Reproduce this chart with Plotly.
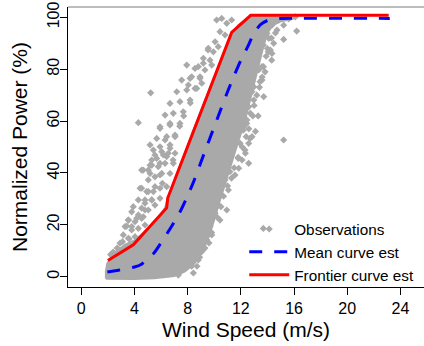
import plotly.graph_objects as go

# ---- Data ----
# Dense core of observations (outline of the solid gray band)
core_x = [1.85, 1.85, 1.95, 2.3, 2.8, 3.4, 4.0, 4.6, 5.2, 5.8, 6.3, 6.5, 6.9, 7.4, 7.9, 8.4, 8.9,
          9.4, 9.9, 10.4, 10.9, 11.3, 11.8, 12.4, 12.9, 16.3, 15.8, 15.0, 14.4, 14.0, 13.7, 13.4,
          13.1, 12.7, 12.3, 11.8, 11.3, 10.8, 10.4, 10.0, 9.6, 9.1, 8.5, 7.8, 7.0, 5.5, 4.0, 1.85]
core_y = [-0.8, 2, 5, 8, 10.5, 12.5, 14, 16.5, 19.5, 23, 26.5, 30, 35.5, 42, 49, 56, 62.5,
          69, 75.5, 82, 88.5, 93.5, 97, 99.2, 100.3, 100.3, 99.3, 98.5, 97, 94, 89, 83,
          76, 68, 60, 52, 44, 36, 29, 22, 15.5, 9.5, 5, 2, 0.2, -0.6, -0.9, -0.8]

# Scattered observations outside the dense core
obs_x = [4.29, 5.92, 6.67, 6.42, 7.05, 5.17, 5.92, 6.67, 5.54, 6.42, 7.05, 5.30, 4.54, 5.04, 5.79,
         6.30, 6.92, 5.17, 5.92, 6.67, 4.42, 4.92, 5.42, 5.92, 6.42, 4.79, 5.30, 5.92, 3.91, 4.54,
         5.04, 5.54, 3.54, 4.17, 4.66, 3.41, 3.79, 4.66, 5.17, 5.67, 6.17, 6.54, 5.04, 5.54, 6.05,
         4.54, 5.04, 5.54, 4.29, 4.79, 5.30, 3.79, 4.29, 4.79, 3.54, 4.04, 4.54, 3.29, 3.79, 4.29,
         4.79, 3.16, 3.54, 4.04, 2.91, 3.29, 2.78, 7.93, 8.55, 9.18, 7.55, 8.18, 8.93, 7.18, 7.93,
         8.68, 6.67, 7.42, 8.18, 6.30, 6.92, 7.67, 5.92, 6.67, 7.42, 5.67, 6.30, 7.05, 5.42, 6.05,
         6.67, 5.30, 5.92, 10.18, 10.56, 10.94, 11.31, 10.43, 10.81, 10.06, 9.55, 9.93, 10.30, 9.18,
         9.68, 8.80, 9.30, 9.81, 8.30, 8.93, 8.05, 8.55, 9.06, 5.22, 9.53, 13.69, 14.06, 14.32,
         13.82, 13.44, 16.20, 15.22, 14.47, 14.22, 14.34, 13.59, 13.34, 13.59, 12.97, 12.84, 13.72,
         12.97, 12.59, 12.71, 12.46, 12.21, 12.84, 12.59, 15.22, 12.34, 12.09, 12.59, 11.84, 15.60,
         16.10, 14.85, 15.22, 14.34, 14.72, 13.97, 14.10, 12.44, 12.18, 12.69, 11.94, 12.31, 11.81,
         11.18, 11.56, 10.81, 11.06, 10.56, 10.94, 10.30, 10.06, 10.43, 9.68, 13.69, 9.81, 8.43,
         7.42, 7.93, 8.93, 9.43, 8.30, 9.06, 8.80, 7.30, 2.40, 2.70, 3.10, 3.60, 2.20, 6.10, 7.70,
         8.20, 7.40, 6.90, 11.60, 12.00, 11.70, 13.10, 13.30, 10.70, 11.00, 9.80,
         9.30, 9.80, 10.20, 10.50, 10.70, 11.00, 11.30, 11.50, 11.80, 12.10, 12.40, 12.60, 12.90,
         13.00, 13.20, 13.40, 13.60, 13.70, 13.90, 14.00, 14.30, 14.60, 8.90, 8.70, 9.60]
obs_y = [59.4, 57.2, 59.1, 54.0, 54.6, 50.8, 50.1, 50.8, 46.9, 46.3, 47.6, 43.0, 41.1, 41.1, 42.4,
         43.7, 43.7, 39.8, 39.2, 39.8, 34.1, 32.8, 32.8, 34.1, 34.7, 29.6, 29.6, 30.2, 27.0, 26.4,
         25.7, 27.6, 21.8, 22.5, 23.1, 19.5, 19.3, 41.1, 43.0, 45.6, 46.9, 47.6, 37.3, 38.5, 39.8,
         34.1, 32.8, 34.7, 29.6, 28.3, 29.6, 25.0, 23.8, 25.7, 21.8, 21.2, 22.5, 19.3, 18.0, 18.6,
         19.9, 16.1, 14.8, 15.4, 12.9, 11.5, 9.6, 81.6, 80.3, 82.3, 75.8, 76.5, 77.1, 71.3, 72.0,
         72.6, 66.8, 67.5, 68.1, 62.3, 63.0, 63.6, 57.8, 58.5, 59.1, 53.3, 52.7, 54.0, 48.8, 48.2,
         49.5, 45.0, 43.7, 99.0, 99.6, 97.7, 99.0, 94.5, 93.2, 90.6, 88.1, 86.7, 88.7, 84.2,
         83.5, 81.0, 79.7, 81.6, 77.1, 76.5, 73.9, 72.6, 74.6, 70.9, 87.4, 89.3, 86.7, 83.5,
         79.0, 75.2, 94.7, 91.5, 90.0, 87.4, 86.1, 81.0, 79.7, 75.8, 73.2, 71.3, 69.4,
         68.1, 65.5, 63.0, 60.4, 57.8, 54.0, 51.4, 52.7, 47.6, 45.0, 43.7, 41.8, 99.4,
         100.2, 99.0, 97.0, 97.0, 95.1, 93.8, 91.9, 59.1, 56.5, 53.3, 51.4, 48.8, 45.6,
         40.5, 39.2, 37.3, 33.4, 31.5, 25.7, 27.6, 24.4, 21.8, 19.3, 18.6, 16.1, 1.4,
         1.7, 7.8, 10.4, 14.2, 4.0, 9.6, 6.4, 0.6, 9.5, 11.0, 13.5, 14.5, 8.5, 36.0, 62.0,
         67.0, 58.0, 45.0, 80.0, 73.0, 66.0, 56.0, 62.0, 56.0, 60.0, 40.0,
         11.0, 17.0, 23.0, 27.0, 31.0, 35.0, 38.0, 42.0, 46.0, 50.0, 54.0, 57.0, 62.0,
         66.0, 70.0, 73.0, 77.0, 81.0, 85.0, 88.0, 92.0, 94.0, 7.5, 4.0, 13.0]

# Mean curve estimate
mean_x = [1.96, 2.8, 3.5, 4.0, 4.5, 5.0, 5.5, 6.0, 6.5, 7.0, 7.5, 8.0, 8.5, 9.0, 9.5, 10.0,
          10.5, 11.0, 11.5, 12.0, 12.5, 13.0, 13.5, 14.0, 14.5, 15.0, 23.2]
mean_y = [1.8, 2.5, 3.1, 3.7, 4.7, 6.8, 9.3, 13.1, 17.0, 21.2, 25.7, 31.2, 37.3, 44.2, 51.0, 57.8,
          64.6, 71.3, 77.6, 83.5, 88.5, 94.0, 97.3, 98.8, 99.4, 99.6, 99.6]

# Frontier curve estimate
front_x = [2.0, 3.91, 6.42, 6.50, 11.31, 12.74, 23.12]
front_y = [6.2, 12.3, 26.5, 30.3, 94.2, 100.8, 100.8]

x_ticks = [0, 4, 8, 12, 16, 20, 24]
y_ticks = [0, 20, 40, 60, 80, 100]

GRAY = "#A9A9A9"
FONT = "Liberation Sans, Arial, sans-serif"

fig = go.Figure()
fig.add_trace(go.Scatter(x=core_x, y=core_y, mode="lines", fill="toself", fillcolor=GRAY,
                         line=dict(color=GRAY, width=2), showlegend=False, hoverinfo="skip"))
fig.add_trace(go.Scatter(x=obs_x, y=obs_y, mode="markers", name="Observations",
                         marker=dict(symbol="diamond", size=5.5, color=GRAY, line=dict(width=0))))
fig.add_trace(go.Scatter(x=mean_x, y=mean_y, mode="lines", name="Mean curve est",
                         line=dict(color="#0000FF", width=3, dash="13px,12px", shape="spline",
                                   smoothing=0.6)))
fig.add_trace(go.Scatter(x=front_x, y=front_y, mode="lines", name="Frontier curve est",
                         line=dict(color="#FF0000", width=3)))

fig.update_layout(
    width=424, height=346,
    margin=dict(l=68, r=0, t=7, b=59, autoexpand=False),
    paper_bgcolor="white", plot_bgcolor="white",
    font=dict(family=FONT, size=16, color="black"),
    showlegend=True,
    legend=dict(x=0.495, y=0.266, xanchor="left", yanchor="top", bgcolor="rgba(0,0,0,0)",
                font=dict(size=15.3), itemwidth=40, tracegroupgap=0),
    shapes=[dict(type="line", xref="paper", yref="paper", x0=0, x1=1, y0=1, y1=1,
                 line=dict(color="#7a7a7a", width=1))],
)
fig.update_xaxes(range=[-1, 25.775], tickmode="array", tickvals=x_ticks,
                 ticktext=[str(v) for v in x_ticks], ticks="outside", ticklen=7, tickcolor="black",
                 showline=True, linecolor="black", linewidth=1, showgrid=False, zeroline=False,
                 title=dict(text="Wind Speed (m/s)", font=dict(size=21), standoff=6),
                 automargin=False)
fig.update_yaxes(range=[-4, 104], tickmode="array", tickvals=y_ticks,
                 ticktext=[str(v) for v in y_ticks], ticks="outside", ticklen=7, tickcolor="black",
                 tickangle=-90, ticklabelstandoff=-5,
                 showline=True, linecolor="black", linewidth=1, showgrid=False, zeroline=False,
                 title=dict(text="Normalized Power (%)", font=dict(size=21), standoff=11),
                 automargin=False)

fig.write_html("out.html")
